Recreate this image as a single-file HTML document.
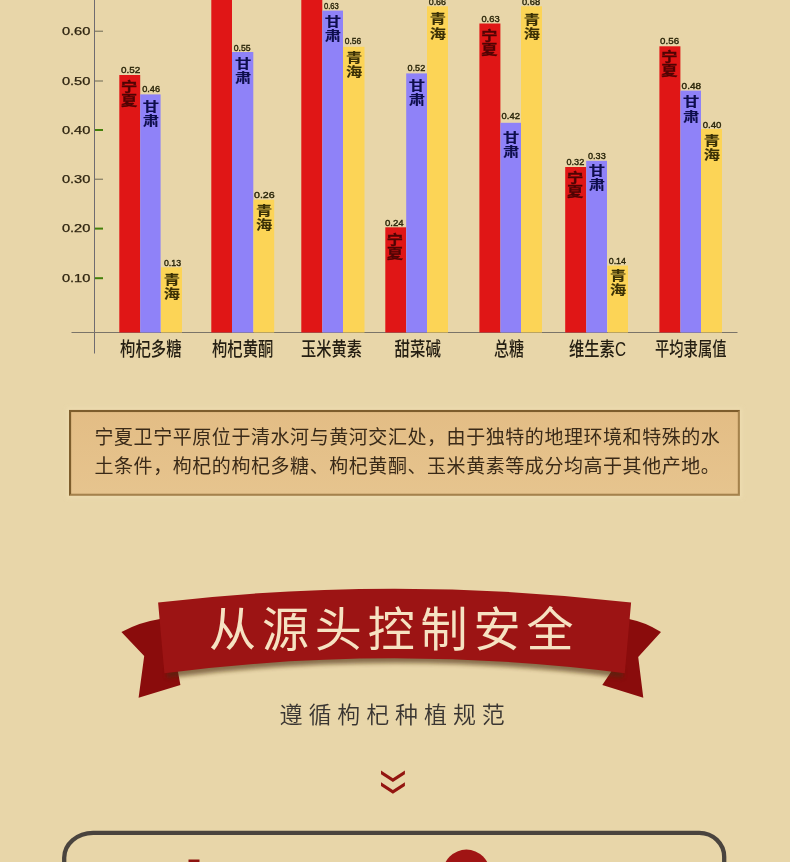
<!DOCTYPE html>
<html lang="zh-CN"><head><meta charset="utf-8"><title>从源头控制安全</title>
<style>
html,body{margin:0;padding:0;background:#e8d6a9}
body{width:790px;height:862px;overflow:hidden;position:relative}
svg{display:block;position:absolute;left:0;top:0}
text{font-family:"Liberation Sans","Noto Sans CJK SC",sans-serif}
.cj{font-family:"Liberation Sans","Noto Sans CJK SC",sans-serif}
</style></head><body>
<svg width="790" height="862" viewBox="0 0 790 862">
<defs>
<filter id="sh" x="-5%" y="-20%" width="110%" height="150%"><feGaussianBlur stdDeviation="2.2"/></filter>
<linearGradient id="boxg" x1="0" y1="0" x2="0" y2="1"><stop offset="0" stop-color="#e3bd85"/><stop offset="1" stop-color="#e6c48e"/></linearGradient>
</defs>
<rect x="0" y="0" width="790" height="862" fill="#e8d6a9"/>

<g id="chart">
<rect x="94" y="0" width="1" height="353.5" fill="#6f6b70"/>
<rect x="71.5" y="332" width="666" height="1" fill="#7a7468"/>
<rect x="95" y="30.7" width="8" height="1.0" fill="#6d6855"/>
<text x="61.9" y="35.0" font-size="10.5" textLength="28.5" lengthAdjust="spacingAndGlyphs" fill="#2e2410" stroke="#2e2410" stroke-width="0.25">0.60</text>
<rect x="95" y="80.5" width="8" height="1.0" fill="#6d6855"/>
<text x="61.9" y="84.8" font-size="10.5" textLength="28.5" lengthAdjust="spacingAndGlyphs" fill="#2e2410" stroke="#2e2410" stroke-width="0.25">0.50</text>
<rect x="95" y="129.0" width="8" height="2.0" fill="#437f0a"/>
<text x="61.9" y="133.8" font-size="10.5" textLength="28.5" lengthAdjust="spacingAndGlyphs" fill="#2e2410" stroke="#2e2410" stroke-width="0.25">0.40</text>
<rect x="95" y="178.7" width="8" height="1.0" fill="#6d6855"/>
<text x="61.9" y="183.0" font-size="10.5" textLength="28.5" lengthAdjust="spacingAndGlyphs" fill="#2e2410" stroke="#2e2410" stroke-width="0.25">0.30</text>
<rect x="95" y="227.6" width="8" height="2.0" fill="#437f0a"/>
<text x="61.9" y="232.4" font-size="10.5" textLength="28.5" lengthAdjust="spacingAndGlyphs" fill="#2e2410" stroke="#2e2410" stroke-width="0.25">0.20</text>
<rect x="95" y="277.2" width="8" height="2.0" fill="#437f0a"/>
<text x="61.9" y="282.0" font-size="10.5" textLength="28.5" lengthAdjust="spacingAndGlyphs" fill="#2e2410" stroke="#2e2410" stroke-width="0.25">0.10</text>
<rect x="119.3" y="75.0" width="20.9" height="257.5" fill="#e01616"/>
<rect x="140.2" y="94.4" width="20.4" height="238.1" fill="#8f82f8"/>
<rect x="161.0" y="267.3" width="21.0" height="65.2" fill="#fcd456"/>
<rect x="211.3" y="-5.0" width="20.7" height="337.5" fill="#e01616"/>
<rect x="232.0" y="52.0" width="21.3" height="280.5" fill="#8f82f8"/>
<rect x="253.5" y="199.7" width="20.7" height="132.8" fill="#fcd456"/>
<rect x="301.3" y="-5.0" width="21.0" height="337.5" fill="#e01616"/>
<rect x="322.3" y="10.6" width="20.7" height="321.9" fill="#8f82f8"/>
<rect x="343.0" y="46.8" width="21.5" height="285.7" fill="#fcd456"/>
<rect x="385.3" y="227.3" width="20.7" height="105.2" fill="#e01616"/>
<rect x="406.2" y="73.4" width="20.8" height="259.1" fill="#8f82f8"/>
<rect x="427.0" y="6.3" width="21.0" height="326.2" fill="#fcd456"/>
<rect x="479.4" y="23.5" width="21.0" height="309.0" fill="#e01616"/>
<rect x="500.4" y="122.8" width="20.6" height="209.7" fill="#8f82f8"/>
<rect x="521.0" y="6.3" width="21.0" height="326.2" fill="#fcd456"/>
<rect x="565.2" y="167.0" width="21.0" height="165.5" fill="#e01616"/>
<rect x="586.2" y="160.8" width="20.8" height="171.7" fill="#8f82f8"/>
<rect x="607.5" y="265.6" width="20.5" height="66.9" fill="#fcd456"/>
<rect x="659.4" y="46.3" width="21.0" height="286.2" fill="#e01616"/>
<rect x="680.4" y="90.6" width="20.6" height="241.9" fill="#8f82f8"/>
<rect x="701.0" y="129.0" width="21.0" height="203.5" fill="#fcd456"/>
<text x="120.9" y="73.4" font-size="9.5" textLength="19.3" lengthAdjust="spacingAndGlyphs" fill="#2a260a" stroke="#2a260a" stroke-width="0.4">0.52</text>
<text class="cj" transform="translate(129.2,90.8) scale(1.05,0.81)" text-anchor="middle" font-size="15.5" font-weight="700" fill="#4e0404" stroke="#4e0404" stroke-width="0.40">宁</text>
<text class="cj" transform="translate(129.2,104.9) scale(1.05,0.81)" text-anchor="middle" font-size="15.5" font-weight="700" fill="#4e0404" stroke="#4e0404" stroke-width="0.40">夏</text>
<text x="142.2" y="91.6" font-size="9.5" textLength="17.9" lengthAdjust="spacingAndGlyphs" fill="#2a260a" stroke="#2a260a" stroke-width="0.4">0.46</text>
<text class="cj" transform="translate(150.8,111.3) scale(1.05,0.81)" text-anchor="middle" font-size="15.5" font-weight="700" fill="#0e0e4c" stroke="#0e0e4c" stroke-width="0.15">甘</text>
<text class="cj" transform="translate(150.8,125.4) scale(1.05,0.81)" text-anchor="middle" font-size="15.5" font-weight="700" fill="#0e0e4c" stroke="#0e0e4c" stroke-width="0.15">肃</text>
<text x="164.0" y="266.0" font-size="9.5" textLength="17.0" lengthAdjust="spacingAndGlyphs" fill="#2a260a" stroke="#2a260a" stroke-width="0.4">0.13</text>
<text class="cj" transform="translate(171.9,284.3) scale(1.05,0.81)" text-anchor="middle" font-size="15.5" font-weight="700" fill="#3a3006" stroke="#3a3006" stroke-width="0.15">青</text>
<text class="cj" transform="translate(171.9,298.4) scale(1.05,0.81)" text-anchor="middle" font-size="15.5" font-weight="700" fill="#3a3006" stroke="#3a3006" stroke-width="0.15">海</text>
<text x="233.7" y="50.6" font-size="9.5" textLength="16.9" lengthAdjust="spacingAndGlyphs" fill="#2a260a" stroke="#2a260a" stroke-width="0.4">0.55</text>
<text class="cj" transform="translate(243.1,68.1) scale(1.05,0.81)" text-anchor="middle" font-size="15.5" font-weight="700" fill="#0e0e4c" stroke="#0e0e4c" stroke-width="0.15">甘</text>
<text class="cj" transform="translate(243.1,82.2) scale(1.05,0.81)" text-anchor="middle" font-size="15.5" font-weight="700" fill="#0e0e4c" stroke="#0e0e4c" stroke-width="0.15">肃</text>
<text x="254.0" y="198.2" font-size="9.5" textLength="20.7" lengthAdjust="spacingAndGlyphs" fill="#2a260a" stroke="#2a260a" stroke-width="0.4">0.26</text>
<text class="cj" transform="translate(264.2,215.1) scale(1.05,0.81)" text-anchor="middle" font-size="15.5" font-weight="700" fill="#3a3006" stroke="#3a3006" stroke-width="0.15">青</text>
<text class="cj" transform="translate(264.2,229.2) scale(1.05,0.81)" text-anchor="middle" font-size="15.5" font-weight="700" fill="#3a3006" stroke="#3a3006" stroke-width="0.15">海</text>
<text x="324.0" y="8.9" font-size="9.5" textLength="14.8" lengthAdjust="spacingAndGlyphs" fill="#2a260a" stroke="#2a260a" stroke-width="0.4">0.63</text>
<text class="cj" transform="translate(333.0,25.9) scale(1.05,0.81)" text-anchor="middle" font-size="15.5" font-weight="700" fill="#0e0e4c" stroke="#0e0e4c" stroke-width="0.15">甘</text>
<text class="cj" transform="translate(333.0,40.0) scale(1.05,0.81)" text-anchor="middle" font-size="15.5" font-weight="700" fill="#0e0e4c" stroke="#0e0e4c" stroke-width="0.15">肃</text>
<text x="344.8" y="44.3" font-size="9.5" textLength="16.5" lengthAdjust="spacingAndGlyphs" fill="#2a260a" stroke="#2a260a" stroke-width="0.4">0.56</text>
<text class="cj" transform="translate(354.1,62.1) scale(1.05,0.81)" text-anchor="middle" font-size="15.5" font-weight="700" fill="#3a3006" stroke="#3a3006" stroke-width="0.15">青</text>
<text class="cj" transform="translate(354.1,76.2) scale(1.05,0.81)" text-anchor="middle" font-size="15.5" font-weight="700" fill="#3a3006" stroke="#3a3006" stroke-width="0.15">海</text>
<text x="385.0" y="225.6" font-size="9.5" textLength="18.7" lengthAdjust="spacingAndGlyphs" fill="#2a260a" stroke="#2a260a" stroke-width="0.4">0.24</text>
<text class="cj" transform="translate(395.0,244.3) scale(1.05,0.81)" text-anchor="middle" font-size="15.5" font-weight="700" fill="#4e0404" stroke="#4e0404" stroke-width="0.40">宁</text>
<text class="cj" transform="translate(395.0,258.4) scale(1.05,0.81)" text-anchor="middle" font-size="15.5" font-weight="700" fill="#4e0404" stroke="#4e0404" stroke-width="0.40">夏</text>
<text x="407.5" y="71.4" font-size="9.5" textLength="17.7" lengthAdjust="spacingAndGlyphs" fill="#2a260a" stroke="#2a260a" stroke-width="0.4">0.52</text>
<text class="cj" transform="translate(417.0,90.1) scale(1.05,0.81)" text-anchor="middle" font-size="15.5" font-weight="700" fill="#0e0e4c" stroke="#0e0e4c" stroke-width="0.15">甘</text>
<text class="cj" transform="translate(417.0,104.2) scale(1.05,0.81)" text-anchor="middle" font-size="15.5" font-weight="700" fill="#0e0e4c" stroke="#0e0e4c" stroke-width="0.15">肃</text>
<text x="428.7" y="4.6" font-size="9.5" textLength="17.3" lengthAdjust="spacingAndGlyphs" fill="#2a260a" stroke="#2a260a" stroke-width="0.4">0.66</text>
<text class="cj" transform="translate(437.9,23.4) scale(1.05,0.81)" text-anchor="middle" font-size="15.5" font-weight="700" fill="#3a3006" stroke="#3a3006" stroke-width="0.15">青</text>
<text class="cj" transform="translate(437.9,37.5) scale(1.05,0.81)" text-anchor="middle" font-size="15.5" font-weight="700" fill="#3a3006" stroke="#3a3006" stroke-width="0.15">海</text>
<text x="481.4" y="21.5" font-size="9.5" textLength="18.2" lengthAdjust="spacingAndGlyphs" fill="#2a260a" stroke="#2a260a" stroke-width="0.4">0.63</text>
<text class="cj" transform="translate(489.3,40.2) scale(1.05,0.81)" text-anchor="middle" font-size="15.5" font-weight="700" fill="#4e0404" stroke="#4e0404" stroke-width="0.40">宁</text>
<text class="cj" transform="translate(489.3,54.3) scale(1.05,0.81)" text-anchor="middle" font-size="15.5" font-weight="700" fill="#4e0404" stroke="#4e0404" stroke-width="0.40">夏</text>
<text x="501.6" y="118.8" font-size="9.5" textLength="18.3" lengthAdjust="spacingAndGlyphs" fill="#2a260a" stroke="#2a260a" stroke-width="0.4">0.42</text>
<text class="cj" transform="translate(511.1,141.5) scale(1.05,0.81)" text-anchor="middle" font-size="15.5" font-weight="700" fill="#0e0e4c" stroke="#0e0e4c" stroke-width="0.15">甘</text>
<text class="cj" transform="translate(511.1,155.6) scale(1.05,0.81)" text-anchor="middle" font-size="15.5" font-weight="700" fill="#0e0e4c" stroke="#0e0e4c" stroke-width="0.15">肃</text>
<text x="521.9" y="4.8" font-size="9.5" textLength="18.2" lengthAdjust="spacingAndGlyphs" fill="#2a260a" stroke="#2a260a" stroke-width="0.4">0.68</text>
<text class="cj" transform="translate(531.9,24.3) scale(1.05,0.81)" text-anchor="middle" font-size="15.5" font-weight="700" fill="#3a3006" stroke="#3a3006" stroke-width="0.15">青</text>
<text class="cj" transform="translate(531.9,38.4) scale(1.05,0.81)" text-anchor="middle" font-size="15.5" font-weight="700" fill="#3a3006" stroke="#3a3006" stroke-width="0.15">海</text>
<text x="566.5" y="165.0" font-size="9.5" textLength="17.7" lengthAdjust="spacingAndGlyphs" fill="#2a260a" stroke="#2a260a" stroke-width="0.4">0.32</text>
<text class="cj" transform="translate(575.1,182.3) scale(1.05,0.81)" text-anchor="middle" font-size="15.5" font-weight="700" fill="#4e0404" stroke="#4e0404" stroke-width="0.40">宁</text>
<text class="cj" transform="translate(575.1,196.4) scale(1.05,0.81)" text-anchor="middle" font-size="15.5" font-weight="700" fill="#4e0404" stroke="#4e0404" stroke-width="0.40">夏</text>
<text x="588.0" y="159.0" font-size="9.5" textLength="17.7" lengthAdjust="spacingAndGlyphs" fill="#2a260a" stroke="#2a260a" stroke-width="0.4">0.33</text>
<text class="cj" transform="translate(597.0,175.1) scale(1.05,0.81)" text-anchor="middle" font-size="15.5" font-weight="700" fill="#0e0e4c" stroke="#0e0e4c" stroke-width="0.15">甘</text>
<text class="cj" transform="translate(597.0,189.2) scale(1.05,0.81)" text-anchor="middle" font-size="15.5" font-weight="700" fill="#0e0e4c" stroke="#0e0e4c" stroke-width="0.15">肃</text>
<text x="608.7" y="264.3" font-size="9.5" textLength="17.3" lengthAdjust="spacingAndGlyphs" fill="#2a260a" stroke="#2a260a" stroke-width="0.4">0.14</text>
<text class="cj" transform="translate(618.1,280.2) scale(1.05,0.81)" text-anchor="middle" font-size="15.5" font-weight="700" fill="#3a3006" stroke="#3a3006" stroke-width="0.15">青</text>
<text class="cj" transform="translate(618.1,294.3) scale(1.05,0.81)" text-anchor="middle" font-size="15.5" font-weight="700" fill="#3a3006" stroke="#3a3006" stroke-width="0.15">海</text>
<text x="660.1" y="44.3" font-size="9.5" textLength="19.0" lengthAdjust="spacingAndGlyphs" fill="#2a260a" stroke="#2a260a" stroke-width="0.4">0.56</text>
<text class="cj" transform="translate(669.3,60.8) scale(1.05,0.81)" text-anchor="middle" font-size="15.5" font-weight="700" fill="#4e0404" stroke="#4e0404" stroke-width="0.40">宁</text>
<text class="cj" transform="translate(669.3,74.9) scale(1.05,0.81)" text-anchor="middle" font-size="15.5" font-weight="700" fill="#4e0404" stroke="#4e0404" stroke-width="0.40">夏</text>
<text x="681.6" y="89.1" font-size="9.5" textLength="19.5" lengthAdjust="spacingAndGlyphs" fill="#2a260a" stroke="#2a260a" stroke-width="0.4">0.48</text>
<text class="cj" transform="translate(691.1,106.4) scale(1.05,0.81)" text-anchor="middle" font-size="15.5" font-weight="700" fill="#0e0e4c" stroke="#0e0e4c" stroke-width="0.15">甘</text>
<text class="cj" transform="translate(691.1,120.5) scale(1.05,0.81)" text-anchor="middle" font-size="15.5" font-weight="700" fill="#0e0e4c" stroke="#0e0e4c" stroke-width="0.15">肃</text>
<text x="702.7" y="128.4" font-size="9.5" textLength="18.7" lengthAdjust="spacingAndGlyphs" fill="#2a260a" stroke="#2a260a" stroke-width="0.4">0.40</text>
<text class="cj" transform="translate(711.9,144.7) scale(1.05,0.81)" text-anchor="middle" font-size="15.5" font-weight="700" fill="#3a3006" stroke="#3a3006" stroke-width="0.15">青</text>
<text class="cj" transform="translate(711.9,158.8) scale(1.05,0.81)" text-anchor="middle" font-size="15.5" font-weight="700" fill="#3a3006" stroke="#3a3006" stroke-width="0.15">海</text>
<text class="cj" x="120.1" y="356" font-size="19.5" font-weight="500" textLength="61.5" lengthAdjust="spacingAndGlyphs" fill="#241e12">枸杞多糖</text>
<text class="cj" x="212.0" y="356" font-size="19.5" font-weight="500" textLength="61.4" lengthAdjust="spacingAndGlyphs" fill="#241e12">枸杞黄酮</text>
<text class="cj" x="301.0" y="356" font-size="19.5" font-weight="500" textLength="61.0" lengthAdjust="spacingAndGlyphs" fill="#241e12">玉米黄素</text>
<text class="cj" x="394.6" y="356" font-size="19.5" font-weight="500" textLength="46.3" lengthAdjust="spacingAndGlyphs" fill="#241e12">甜菜碱</text>
<text class="cj" x="494.0" y="356" font-size="19.5" font-weight="500" textLength="30.0" lengthAdjust="spacingAndGlyphs" fill="#241e12">总糖</text>
<text class="cj" x="569.0" y="356" font-size="19.5" font-weight="500" textLength="57.0" lengthAdjust="spacingAndGlyphs" fill="#241e12">维生素C</text>
<text class="cj" x="655.0" y="356" font-size="19.5" font-weight="500" textLength="71.5" lengthAdjust="spacingAndGlyphs" fill="#241e12">平均隶属值</text>
</g>
<g id="box">
<rect x="67" y="408" width="675" height="90" fill="#f2e2b8" opacity="0.5" filter="url(#sh)"/>
<rect x="69" y="409.9" width="670.9" height="85.9" fill="#a5824c"/>
<path d="M69 409.9 H739.9 L737.8 412.1 H71.2 V493.6 L69 495.8 Z" fill="#7d5d2c"/>
<rect x="71.2" y="412.1" width="666.6" height="81.6" fill="url(#boxg)"/>
<text class="cj" x="94.5" y="444" font-size="19" letter-spacing="0.56" fill="#3a2a18">宁夏卫宁平原位于清水河与黄河交汇处，由于独特的地理环境和特殊的水</text>
<text class="cj" x="94.5" y="472.5" font-size="19" letter-spacing="0.56" fill="#3a2a18">土条件，枸杞的枸杞多糖、枸杞黄酮、玉米黄素等成分均高于其他产地。</text>
</g>
<g id="ribbon">
<path d="M121.4 632 Q140 622 160 619 L178 672 L180.4 685 L138.6 697.7 L144.2 656 Z" fill="#8a0c0c"/>
<path d="M661 632 Q645 622 629 619 L611 672 L602.3 685 L643.3 697.7 L638.2 657 Z" fill="#8a0c0c"/>
<path d="M167 668 Q395 638 623 668 L623 678 Q395 648 167 678 Z" fill="#4a2c0c" opacity="0.6" filter="url(#sh)"/>
<path d="M158.1 602.5 Q394.6 575 631.1 602.5 L624.8 673.2 Q394.6 643.5 164.4 673.2 Z" fill="#9c1414"/>
<text class="cj" x="209" y="645.5" font-size="47" font-weight="400" letter-spacing="5.9" fill="#f6e2c2">从源头控制安全</text>
</g>
<text class="cj" x="279.5" y="722.6" font-size="23" font-weight="350" letter-spacing="5.9" fill="#3a3632">遵循枸杞种植规范</text>
<path d="M381 770.6 L392.9 778.3 L404.9 770.6 L404.9 774.2 L392.9 782.0 L381 774.2 Z" fill="#931510"/>
<path d="M381 782.3 L392.9 790.0 L404.9 782.3 L404.9 785.9 L392.9 793.7 L381 785.9 Z" fill="#931510"/>
<path d="M64.2 870 L64.2 857.8 A29 25 0 0 1 93.2 832.8 L699.2 832.8 A25 24 0 0 1 724.2 856.8 L724.2 870" fill="none" stroke="#4a443e" stroke-width="4.3"/>
<rect x="188.5" y="859.5" width="11" height="4" fill="#8e1410"/>
<circle cx="466.4" cy="873.2" r="23.6" fill="#a01414"/>
</svg></body></html>
